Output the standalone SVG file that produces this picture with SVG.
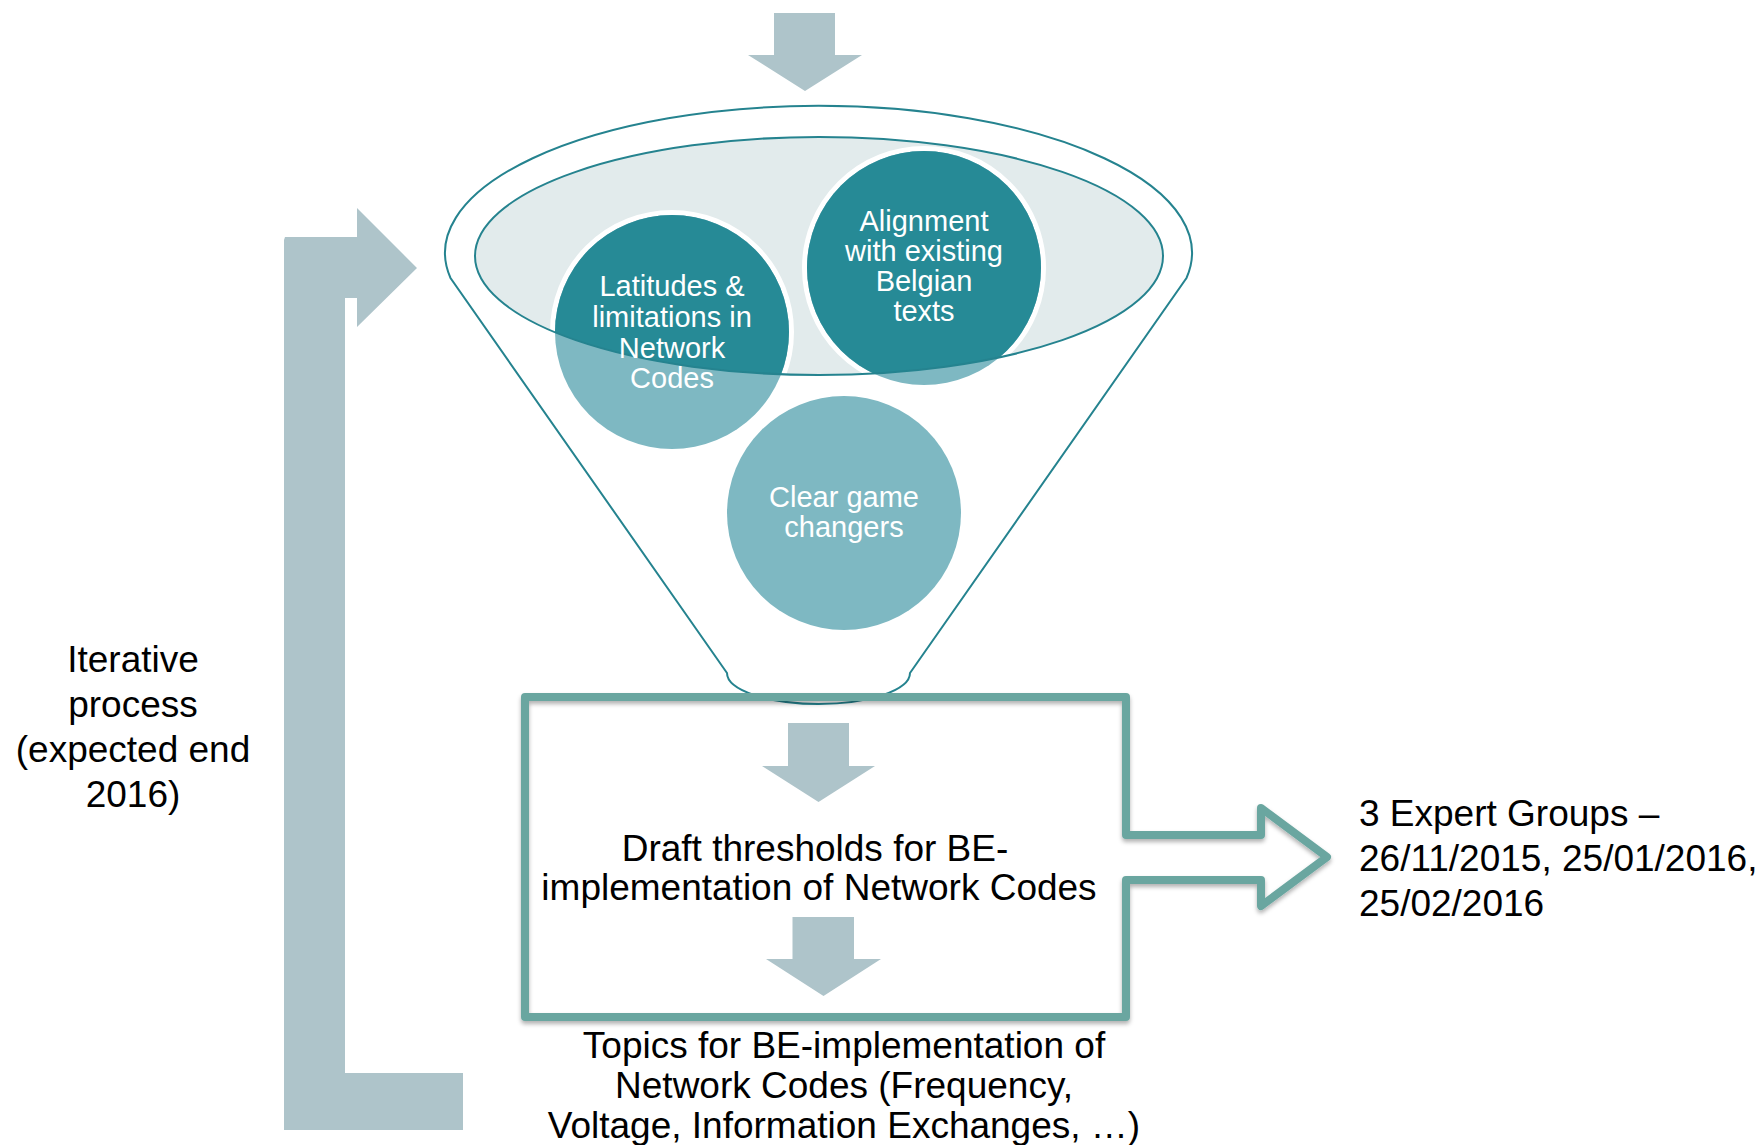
<svg xmlns="http://www.w3.org/2000/svg" width="1764" height="1145" viewBox="0 0 1764 1145">
<style>
.garrow{fill:#AEC4CA}
.funnel{fill:none;stroke:#25838F;stroke-width:2}
.ctext{font-family:"Liberation Sans",Arial,sans-serif;font-size:29px;fill:#FFFFFF;text-anchor:middle}
.btext{font-family:"Liberation Sans",Arial,sans-serif;font-size:37px;fill:#000000}
.mid{text-anchor:middle}
.light{fill:#7EB8C2}
.dark{fill:#268A96}
.ring{fill:none;stroke:#FFFFFF;stroke-width:5}
</style>
<defs>
<clipPath id="innerClip"><ellipse cx="819" cy="256" rx="344" ry="119"/></clipPath>
<filter id="sh" x="-5%" y="-5%" width="110%" height="115%">
<feDropShadow dx="0" dy="3" stdDeviation="2" flood-color="#000000" flood-opacity="0.3"/>
</filter>
</defs>
<rect width="1764" height="1145" fill="#FFFFFF"/>

<g id="connectors">
<polygon id="top-arrow" class="garrow" points="774,13 835,13 835,55 862,55 805,91 748,55 774,55"/>
<path id="loop-arrow" class="garrow" d="M285,237 H357 V208 L417,268 L357,327 V298 H345 V1073 H463 V1130 H284 V240 Z"/>
<polygon id="box-arrow-1" class="garrow" points="788,723 849,723 849,766 875,766 818.5,802 762,766 788,766"/>
<polygon id="box-arrow-2" class="garrow" points="792.5,917 854,917 854,959 881,959 823.5,996 766,959 792.5,959"/>
</g>

<g id="funnel">
<path class="funnel" fill="#FFFFFF" d="M450.5,278 A373.5,147 0 1 1 1186.5,278 L910,673 A91.5,31 0 0 1 727,673 Z"/>
<ellipse id="funnel-inner" cx="819" cy="256" rx="344" ry="119" fill="#E2EBEC"/>
</g>

<g id="node-latitudes">
<circle class="ring" cx="672" cy="332" r="119.5"/>
<circle class="light" cx="672" cy="332" r="117"/>
<circle class="dark" cx="672" cy="332" r="117" clip-path="url(#innerClip)"/>
</g>
<g id="node-alignment">
<circle class="ring" cx="924" cy="268" r="119.5"/>
<circle class="light" cx="924" cy="268" r="117"/>
<circle class="dark" cx="924" cy="268" r="117" clip-path="url(#innerClip)"/>
</g>
<g id="node-clear">
<circle class="light" cx="844" cy="513" r="117"/>
</g>
<ellipse cx="819" cy="256" rx="344" ry="119" fill="none" stroke="#25838F" stroke-width="2"/>

<g id="node-latitudes-text">
<text class="ctext" x="672" y="296">Latitudes &amp;</text>
<text class="ctext" x="672" y="327">limitations in</text>
<text class="ctext" x="672" y="358">Network</text>
<text class="ctext" x="672" y="388">Codes</text>
</g>
<g id="node-alignment-text">
<text class="ctext" x="924" y="231">Alignment</text>
<text class="ctext" x="924" y="261">with existing</text>
<text class="ctext" x="924" y="291">Belgian</text>
<text class="ctext" x="924" y="321">texts</text>
</g>
<g id="node-clear-text">
<text class="ctext" x="844" y="507">Clear game</text>
<text class="ctext" x="844" y="537">changers</text>
</g>

<g id="node-box">
<path d="M525,697 H1126 V835 H1261 V808 L1327,857 L1261,906 V880 H1126 V1017 H525 Z" fill="none" stroke="#6AA6A0" stroke-width="8" stroke-linejoin="round" filter="url(#sh)"/>
<text class="btext mid" x="815" y="861">Draft thresholds for BE-</text>
<text class="btext mid" x="819" y="900">implementation of Network Codes</text>
</g>

<g id="node-topics">
<text class="btext mid" x="844" y="1058">Topics for BE-implementation of</text>
<text class="btext mid" x="844" y="1098">Network Codes (Frequency,</text>
<text class="btext mid" x="844" y="1138">Voltage, Information Exchanges, …)</text>
</g>

<g id="node-experts">
<text class="btext" x="1359" y="826">3 Expert Groups –</text>
<text class="btext" x="1359" y="871">26/11/2015, 25/01/2016,</text>
<text class="btext" x="1359" y="916">25/02/2016</text>
</g>

<g id="node-iterative">
<text class="btext mid" x="133" y="672">Iterative</text>
<text class="btext mid" x="133" y="717">process</text>
<text class="btext mid" x="133" y="762">(expected end</text>
<text class="btext mid" x="133" y="807">2016)</text>
</g>
</svg>
